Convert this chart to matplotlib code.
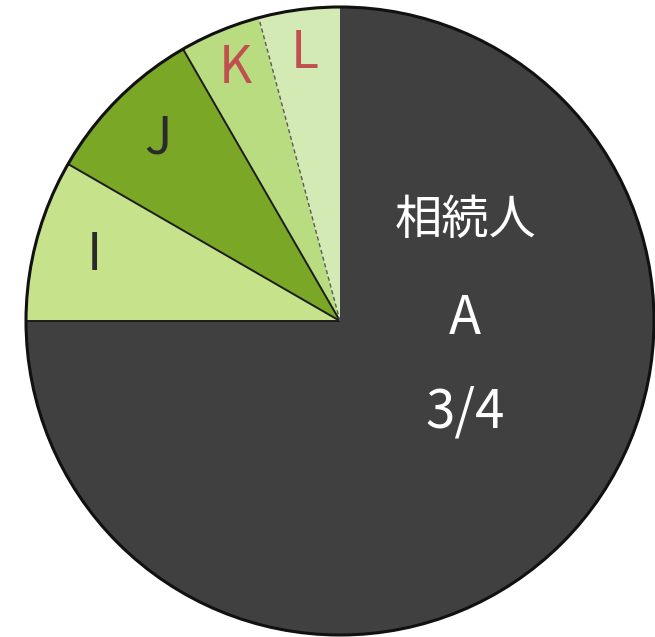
import numpy as np
import matplotlib
matplotlib.use("Agg")
import matplotlib.pyplot as plt
from matplotlib.patches import Circle

plt.rcParams['font.family'] = ['Noto Sans CJK JP', 'DejaVu Sans']

# Data (shares of the estate, in 1/24 units)
labels = ["A", "I", "J", "K", "L"]
shares = [18, 2, 2, 1, 1]
colors = ["#404040", "#c6e28b", "#7aa725", "#b9dc81", "#d3eab4"]
label_colors = ["#ffffff", "#2a2a2a", "#2a2a2a", "#c0504f", "#c0504f"]
main_label = ["相続人", "A", "3/4"]

W, H = 655, 637
fig = plt.figure(figsize=(W / 100, H / 100), dpi=100)
ax = fig.add_axes([0, 0, 1, 1])

cx, cy, R = 340, H - 321, 314
wedges, _ = ax.pie(shares, colors=colors, startangle=90, counterclock=False,
                   radius=R, center=(cx, cy), frame=True,
                   wedgeprops=dict(linewidth=0, edgecolor='none'))

ax.set_xlim(0, W)
ax.set_ylim(0, H)
ax.set_aspect('equal')
ax.axis('off')

# Radial boundaries
for i, w in enumerate(wedges):
    th = np.deg2rad(w.theta1)
    x2, y2 = cx + R * np.cos(th), cy + R * np.sin(th)
    name = labels[i]
    if name == "L":
        continue
    ls = '-'
    col = '#1c1c1c'
    lw = 1.4
    if name == "K":
        # boundary between K and L
        ls = (0, (3, 2))
        col = '#5a5a5a'
        lw = 1.0
    ax.plot([cx, x2], [cy, y2], color=col, lw=lw, ls=ls, zorder=3,
            solid_capstyle='butt')

# Outer outline
ax.add_patch(Circle((cx, cy), R, fill=False, edgecolor='#111111', lw=2.2, zorder=4))

# Small wedge labels
dist = {"I": 0.81, "J": 0.82, "K": 0.87, "L": 0.86}
for i, w in enumerate(wedges):
    name = labels[i]
    if name == "A":
        continue
    mid = np.deg2rad((w.theta1 + w.theta2) / 2)
    r = dist[name] * R
    ax.text(cx + r * np.cos(mid), cy + r * np.sin(mid), name,
            color=label_colors[i], fontsize=37, ha='center', va='center',
            zorder=5)

# Main wedge label
tx = cx + 125
for j, (t, dy) in enumerate(zip(main_label, [100, 3, -91])):
    ax.text(tx, cy + dy, t, color='white', fontsize=34 if j == 0 else 38,
            ha='center', va='center', zorder=5)

fig.savefig("out.png", dpi=100)
